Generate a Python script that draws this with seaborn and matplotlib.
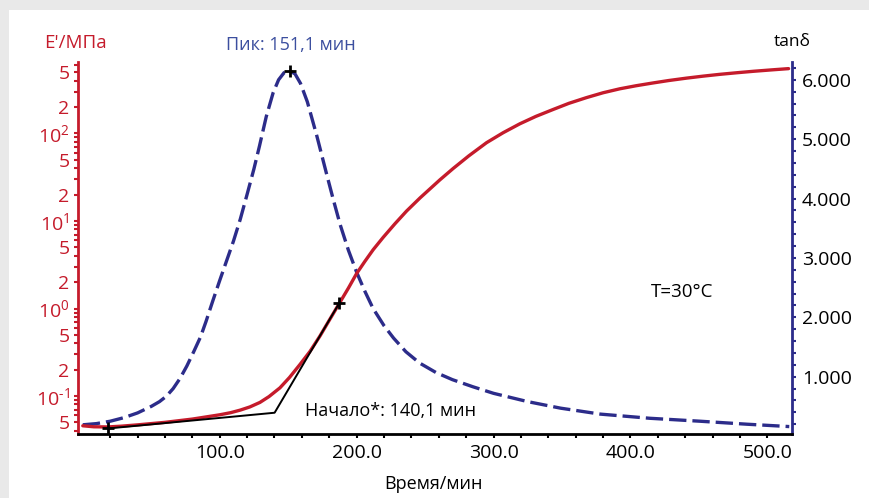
import numpy as np
import matplotlib
matplotlib.use("Agg")
import matplotlib.pyplot as plt
from matplotlib.patches import Rectangle
from matplotlib.ticker import FixedLocator, FuncFormatter, NullFormatter
import seaborn as sns

# E' (MPa)
time_e = [0, 8, 18, 28, 40, 60, 80, 100, 108, 115, 122, 129.4, 136, 144, 151,
          158.6, 166, 173.2, 180, 187.8, 194, 200, 206, 212.1, 219.4, 228, 236.5,
          246.4, 260.8, 270.5, 282, 294.9, 307, 319.2, 331, 343.5, 355, 367.9,
          380, 392.2, 404, 416.5, 428, 440.9, 453, 465.2, 478, 490, 503, 515.5]
e_mod = [0.0457, 0.0445, 0.0443, 0.0452, 0.0468, 0.0500, 0.0545, 0.0610, 0.0645,
         0.0690, 0.0750, 0.0845, 0.0985, 0.124, 0.163, 0.229, 0.324, 0.484, 0.733,
         1.175, 1.71, 2.51, 3.45, 4.70, 6.5, 9.3, 13.0, 18.4, 29.5, 39.8, 55.6,
         78.5, 102, 129, 157, 188, 221, 257, 292, 324, 351, 378, 403, 429, 452,
         474, 495, 514, 533, 551]

# tan delta
time_tan = [0, 10, 20, 30, 40, 50, 56, 61, 66, 71, 76, 81, 86, 90, 95, 100, 105,
            110, 115, 120, 125, 129, 134, 139, 143, 147, 151.1, 155, 159, 164, 171,
            178, 183, 188, 194, 200, 206, 212, 220, 227, 236, 246, 258, 270, 285,
            300, 325, 349, 378, 414, 451, 485, 516]
tan_d = [0.19, 0.21, 0.25, 0.31, 0.39, 0.50, 0.58, 0.67, 0.80, 0.97, 1.18, 1.42,
         1.67, 1.93, 2.28, 2.62, 2.95, 3.28, 3.65, 4.07, 4.50, 4.88, 5.38, 5.78,
         6.00, 6.12, 6.15, 6.10, 5.94, 5.63, 5.05, 4.42, 3.98, 3.56, 3.13, 2.76,
         2.44, 2.15, 1.86, 1.65, 1.42, 1.23, 1.07, 0.95, 0.83, 0.72, 0.58, 0.47,
         0.37, 0.30, 0.25, 0.20, 0.16]

# onset construction (tangents) and marked points
onset_t = [18.7, 140.1, 187.3]
onset_e = [0.0426, 0.0644, 1.15]
peak_t = 151.1
peak_tan = 6.15

x_major = [100, 200, 300, 400, 500]
x_minor = [v for v in range(20, 520, 20) if v % 100]
e_major = [0.05, 0.1, 0.2, 0.5, 1, 2, 5, 10, 20, 50, 100, 200, 500]
e_minor = [m * 10.0 ** d for d in range(-2, 3) for m in (3, 4, 6, 7, 8, 9)]
tan_major = [1, 2, 3, 4, 5, 6]
tan_minor = [round(0.2 * i, 1) for i in range(1, 32) if i % 5]

RED = '#c51b2b'
NAVY = '#2c2c8a'
BLUE_TXT = '#3c4f9f'

sns.set_theme(style='white')
plt.rcParams['font.family'] = ['Open Sans', 'DejaVu Sans']
plt.rcParams['mathtext.fontset'] = 'custom'
plt.rcParams['mathtext.rm'] = 'Open Sans'

W, H = 869, 498
fig = plt.figure(figsize=(W / 100, H / 100), dpi=100)
fig.set_facecolor('#e9e9e9')
fig.patches.append(Rectangle((9 / W, 0), 1, 1 - 10 / H, transform=fig.transFigure,
                             facecolor='white', edgecolor='none', zorder=-5))

L, R, T, B = 78, 792, 62, 434
ax = fig.add_axes([L / W, 1 - B / H, (R - L) / W, (B - T) / H])
ax2 = ax.twinx()
ax.set_zorder(ax2.get_zorder() + 1)
ax.patch.set_visible(False)

sns.lineplot(x=time_tan, y=tan_d, ax=ax2, color=NAVY, linewidth=2.4,
             linestyle=(0, (5.2, 1.8)))
ax2.plot([peak_t], [peak_tan], marker='+', color='black', ms=9, mew=2)

sns.lineplot(x=time_e, y=e_mod, ax=ax, color=RED, linewidth=2.4)
sns.lineplot(x=onset_t, y=onset_e, ax=ax, color='black', linewidth=1.4, sort=False)
ax.plot([onset_t[0], onset_t[-1]], [onset_e[0], onset_e[-1]], ls='none',
        marker='+', color='black', ms=9, mew=2)

ax.set_xlim(-3.5, 518)
ax.set_yscale('log')
ax.set_ylim(0.0368, 656)
ax2.set_ylim(0.035, 6.30)

ax.xaxis.set_major_locator(FixedLocator(x_major))
ax.xaxis.set_minor_locator(FixedLocator(x_minor))
ax.xaxis.set_major_formatter(FuncFormatter(lambda v, p: f'{v:.1f}'))

def elabel(v, p):
    d = np.log10(v)
    if abs(d - round(d)) < 1e-6:
        e = str(round(d)).replace('-', '\u2010')
        return r'$\mathregular{10^{%s}}$' % e
    return str(int(round(v / 10 ** np.floor(d))))

ax.yaxis.set_major_locator(FixedLocator(e_major))
ax.yaxis.set_minor_locator(FixedLocator(e_minor))
ax.yaxis.set_major_formatter(FuncFormatter(elabel))
ax.yaxis.set_minor_formatter(NullFormatter())

ax2.yaxis.set_major_locator(FixedLocator(tan_major))
ax2.yaxis.set_minor_locator(FixedLocator(tan_minor))
ax2.yaxis.set_major_formatter(FuncFormatter(lambda v, p: f'{v:.3f}'))

for a in (ax, ax2):
    for s in a.spines.values():
        s.set_visible(False)
ax.spines['left'].set_visible(True)
ax.spines['left'].set_color(RED)
ax.spines['left'].set_linewidth(2)
ax.spines['bottom'].set_visible(True)
ax.spines['bottom'].set_color('black')
ax.spines['bottom'].set_linewidth(2)
ax2.spines['right'].set_visible(True)
ax2.spines['right'].set_color(NAVY)
ax2.spines['right'].set_linewidth(2)

ax.tick_params(axis='x', which='both', direction='out', length=3, width=1.5,
               color='black', labelsize=14, labelcolor='black', pad=4, bottom=True)
ax.tick_params(axis='y', which='both', direction='out', length=3, width=1.5,
               color=RED, labelsize=14, labelcolor=RED, pad=3, left=True)
ax2.tick_params(axis='y', which='both', direction='out', length=3, width=1.5,
                color=NAVY, labelsize=14, labelcolor='black', pad=4, right=True)

ax.set_xlabel('Время/мин', fontsize=13, color='black')
ax.xaxis.set_label_coords((434 - L) / (R - L), (B - 484) / (B - T))
ax.xaxis.label.set_va('center')
ax.set_ylabel("E'/МПа", fontsize=13.5, color=RED, rotation=0)
ax.yaxis.set_label_coords((75 - L) / (R - L), (B - 43) / (B - T))
ax.yaxis.label.set_va('center')
ax.yaxis.label.set_ha('center')
ax2.set_ylabel('tanδ', fontsize=12.5, color='black', rotation=0)
ax2.yaxis.set_label_coords(1.0, (B - 42) / (B - T))
ax2.yaxis.label.set_va('center')
ax2.yaxis.label.set_ha('center')

fig.text(291 / W, 1 - 45 / H, 'Пик: 151,1 мин', color=BLUE_TXT, fontsize=13,
         ha='center', va='center')
fig.text(305 / W, 1 - 411 / H, 'Начало*: 140,1 мин', color='black', fontsize=13,
         ha='left', va='center')
fig.text(651 / W, 1 - 292 / H, 'T=30°C', color='black', fontsize=13.5,
         ha='left', va='center')

fig.savefig('out.png', dpi=100)
